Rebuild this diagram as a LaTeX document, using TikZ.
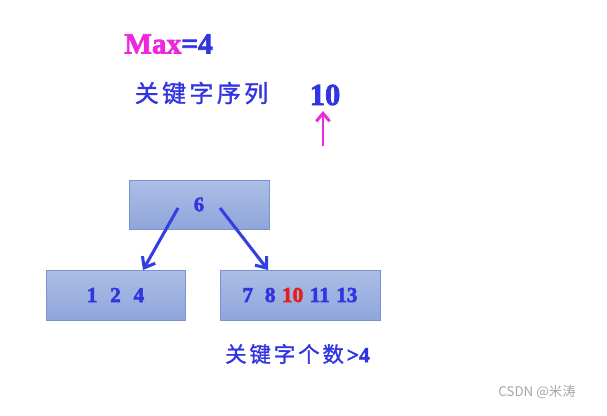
\documentclass[tikz,border=0pt]{standalone}
\usepackage{fontspec}
\setmainfont{Liberation Serif}[BoldFeatures={FakeBold=2.4}]
\newfontfamily\cjk{Noto Sans CJK SC}[LetterSpace=14, FakeBold=1.3]
\newfontfamily\cjkmark{Noto Sans CJK SC}
\usetikzlibrary{arrows.meta}

\definecolor{txtblue}{RGB}{50,52,226}
\definecolor{arrblue}{RGB}{50,64,226}
\definecolor{hotpink}{RGB}{236,40,220}
\definecolor{keyred}{RGB}{228,30,30}
\definecolor{boxtop}{RGB}{172,190,230}
\definecolor{boxbot}{RGB}{143,166,219}
\definecolor{boxline}{RGB}{122,147,206}

\tikzset{every picture/.style={line width=0.75pt}}
\tikzset{
  keybox/.style={draw=boxline, top color=boxtop, bottom color=boxbot, inner sep=0pt, font=\fontsize{16}{18}\selectfont\bfseries, text=txtblue},
  ptr/.style={draw=arrblue, line width=2.3pt, -{Straight Barb[length=7pt,width=11pt,line width=2.3pt]}},
}

\begin{document}
\begin{tikzpicture}[x=0.75pt,y=0.75pt,yscale=-1,xscale=1]
%set diagram to the size of the slide
\useasboundingbox (0,0) rectangle (607,415);

% Text Node
\node (max) at (168.5,44) [inner sep=0.75pt, font=\fontsize{22}{24}\selectfont\bfseries] {\textcolor{hotpink}{Max}\textcolor{txtblue}{=4}};
% Text Node
\node (seq) at (201.5,93) [inner sep=0.75pt, font=\fontsize{18}{20}\selectfont\cjk, text=txtblue] {关键字序列};
% Text Node
\node (key) at (325,95) [inner sep=0.75pt, font=\fontsize{23}{25}\selectfont\bfseries, text=txtblue] {10};
%Straight Lines
\coordinate (up0) at (323,146);
\coordinate (up1) at (323,111);
\draw [draw=hotpink, line width=2.2pt, -{Straight Barb[length=6pt,width=10pt,line width=2.2pt]}] (up0) -- (up1);

%Shape: Rectangle
\node (root) at (199,204.5) [keybox, minimum width=105pt, minimum height=36.75pt, font=\fontsize{15.5}{17}\selectfont\bfseries] {6};
%Shape: Rectangle
\node (left) at (115.5,295) [keybox, minimum width=104.25pt, minimum height=37.5pt] {1\hspace{0.6em}2\hspace{0.6em}4};
%Shape: Rectangle
\node (right) at (300,295) [keybox, minimum width=120pt, minimum height=37.5pt] {7\hspace{0.55em}8\hspace{0.3em}\textcolor{keyred}{10}\hspace{0.3em}11\hspace{0.3em}13};

%Straight Lines
\coordinate (l0) at (178,208);
\coordinate (l1) at (143,270);
\draw [ptr] (l0) -- (l1);
%Straight Lines
\coordinate (r0) at (220,208);
\coordinate (r1) at (268,270);
\draw [ptr] (r0) -- (r1);

% Text Node
\node (count) at (297.5,354) [inner sep=0.75pt, font=\fontsize{16}{18}\selectfont, text=txtblue] {{\cjk 关键字个数}\textbf{>4}};
% Text Node
\node (mark) at (537,392) [inner sep=0.75pt, font=\fontsize{10}{12}\selectfont\cjkmark, text=black!35] {CSDN @米涛};

\end{tikzpicture}
\end{document}
